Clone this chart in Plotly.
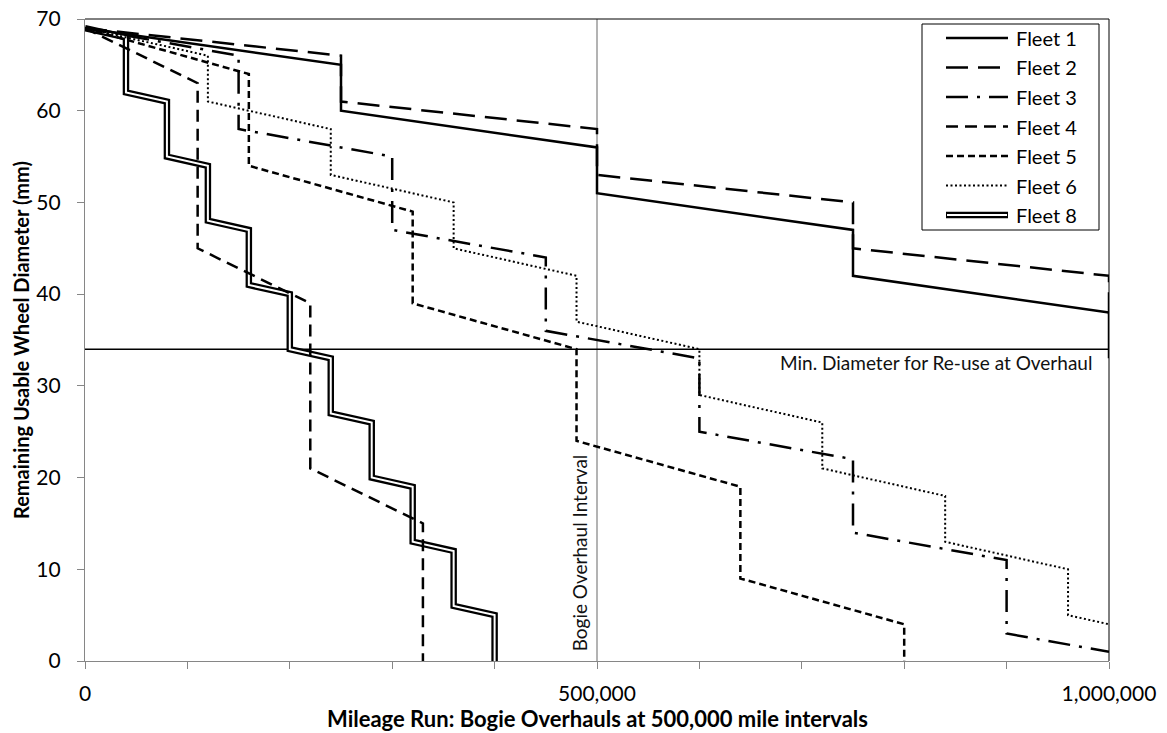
import plotly.graph_objects as go

# ---------------- data ----------------
fleet1_x = [0, 250000, 250000, 500000, 500000, 750000, 750000, 1000000, 1000000]
fleet1_y = [69, 65, 60, 56, 51, 47, 42, 38, 33]

fleet2_x = [0, 250000, 250000, 500000, 500000, 750000, 750000, 1000000, 1000000]
fleet2_y = [69, 66, 61, 58, 53, 50, 45, 42, 37]

fleet3_x = [0, 150000, 150000, 300000, 300000, 450000, 450000, 600000, 600000,
            750000, 750000, 900000, 900000, 1000000]
fleet3_y = [69, 66, 58, 55, 47, 44, 36, 33, 25, 22, 14, 11, 3, 1]

fleet4_x = [0, 110000, 110000, 220000, 220000, 330000, 330000]
fleet4_y = [69, 63, 45, 39, 21, 15, 0]

fleet5_x = [0, 160000, 160000, 320000, 320000, 480000, 480000, 640000, 640000, 800000, 800000]
fleet5_y = [69, 64, 54, 49, 39, 34, 24, 19, 9, 4, 0]

fleet6_x = [0, 120000, 120000, 240000, 240000, 360000, 360000, 480000, 480000, 600000, 600000,
            720000, 720000, 840000, 840000, 960000, 960000, 1000000]
fleet6_y = [69, 66, 61, 58, 53, 50, 45, 42, 37, 34, 29, 26, 21, 18, 13, 10, 5, 4]

fleet8_x = [0, 40000, 40000, 80000, 80000, 120000, 120000, 160000, 160000, 200000, 200000,
            240000, 240000, 280000, 280000, 320000, 320000, 360000, 360000, 400000, 400000]
fleet8_y = [69, 68, 62, 61, 55, 54, 48, 47, 41, 40, 34, 33, 27, 26, 20, 19, 13, 12, 6, 5, 0]

min_diameter = 34
overhaul_interval = 500000

x_tick_vals = [0, 100000, 200000, 300000, 400000, 500000, 600000, 700000, 800000, 900000, 1000000]
x_tick_text = ["0", "", "", "", "", "500,000", "", "", "", "", "1,000,000"]
y_tick_vals = [0, 10, 20, 30, 40, 50, 60, 70]

fleet_names = ["Fleet 1", "Fleet 2", "Fleet 3", "Fleet 4", "Fleet 5", "Fleet 6", "Fleet 8"]

# ---------------- styles ----------------
FONT = "Lato, 'Open Sans', Arial, sans-serif"
styles = {
    "Fleet 1": dict(width=2.5, dash="solid"),
    "Fleet 2": dict(width=2.5, dash="22px,10px"),
    "Fleet 3": dict(width=2.5, dash="22px,9px,3px,9px"),
    "Fleet 4": dict(width=2.5, dash="12px,7px"),
    "Fleet 5": dict(width=2.5, dash="7px,4px"),
    "Fleet 6": dict(width=2, dash="2px,2.5px"),
}
series = {
    "Fleet 1": (fleet1_x, fleet1_y),
    "Fleet 2": (fleet2_x, fleet2_y),
    "Fleet 3": (fleet3_x, fleet3_y),
    "Fleet 4": (fleet4_x, fleet4_y),
    "Fleet 5": (fleet5_x, fleet5_y),
    "Fleet 6": (fleet6_x, fleet6_y),
}

fig = go.Figure()

# reference lines
fig.add_trace(go.Scatter(x=[overhaul_interval, overhaul_interval], y=[0, 70], mode="lines",
                         line=dict(color="#808080", width=1.2), showlegend=False, hoverinfo="skip"))
fig.add_trace(go.Scatter(x=[0, 1000000], y=[min_diameter, min_diameter], mode="lines",
                         line=dict(color="black", width=1.5), showlegend=False, hoverinfo="skip"))

# Fleet 8 double line
fig.add_trace(go.Scatter(x=fleet8_x, y=fleet8_y, mode="lines",
                         line=dict(color="black", width=6.5), showlegend=False))
fig.add_trace(go.Scatter(x=fleet8_x, y=fleet8_y, mode="lines",
                         line=dict(color="white", width=2), showlegend=False, hoverinfo="skip"))

for name, (xs, ys) in series.items():
    st = styles[name]
    fig.add_trace(go.Scatter(x=xs, y=ys, mode="lines", name=name,
                             line=dict(color="black", width=st["width"], dash=st["dash"]),
                             showlegend=False))

# ---------------- layout ----------------
L, R, T, B = 85, 1109, 19, 661
W, H = 1167, 733
pw, ph = R - L, B - T

def px(xp):
    return (xp - L) / pw

def py(yp):
    return (B - yp) / ph

shapes = []
# top and right frame
shapes.append(dict(type="line", xref="paper", yref="paper", x0=0, x1=1, y0=1, y1=1,
                   line=dict(color="black", width=1)))
shapes.append(dict(type="line", xref="paper", yref="paper", x0=1, x1=1, y0=0, y1=1,
                   line=dict(color="black", width=1)))

# legend box
shapes.append(dict(type="rect", xref="paper", yref="paper", x0=px(922), x1=px(1099),
                   y0=py(230), y1=py(24), line=dict(color="black", width=1), fillcolor="white",
                   layer="above"))

annotations = []
entry_y = [38, 67.5, 97, 126.5, 156, 185.5, 215]
for i, name in enumerate(fleet_names):
    yy = py(entry_y[i])
    if name == "Fleet 8":
        shapes.append(dict(type="line", xref="paper", yref="paper", x0=px(946), x1=px(1008),
                           y0=yy, y1=yy, line=dict(color="black", width=6.5), layer="above"))
        shapes.append(dict(type="line", xref="paper", yref="paper", x0=px(947), x1=px(1007),
                           y0=yy, y1=yy, line=dict(color="white", width=2), layer="above"))
    else:
        st = styles[name]
        shapes.append(dict(type="line", xref="paper", yref="paper", x0=px(946), x1=px(1008),
                           y0=yy, y1=yy, line=dict(color="black", width=st["width"], dash=st["dash"]),
                           layer="above"))
    annotations.append(dict(text=name, xref="paper", yref="paper", x=px(1014), y=yy,
                            xanchor="left", yanchor="middle", showarrow=False,
                            font=dict(family=FONT, size=20, color="black")))

annotations.append(dict(text="Min. Diameter for Re-use at Overhaul", x=985500, y=32.6,
                        xref="x", yref="y", xanchor="right", yanchor="middle", showarrow=False,
                        font=dict(family=FONT, size=19, color="#111")))
annotations.append(dict(text="Bogie Overhaul Interval", x=483000, y=11.8, xref="x", yref="y",
                        xanchor="center", yanchor="middle", textangle=-90, showarrow=False,
                        font=dict(family=FONT, size=19, color="#111")))
annotations.append(dict(text="<b>Mileage Run: Bogie Overhauls at 500,000 mile intervals</b>",
                        xref="paper", yref="paper", x=0.5, y=py(718), xanchor="center",
                        yanchor="middle", showarrow=False,
                        font=dict(family=FONT, size=22, color="black")))
annotations.append(dict(text="<b>Remaining Usable Wheel Diameter (mm)</b>",
                        xref="paper", yref="paper", x=px(21), y=0.5, xanchor="center",
                        yanchor="middle", textangle=-90, showarrow=False,
                        font=dict(family=FONT, size=20, color="black")))

fig.update_layout(
    width=W, height=H,
    margin=dict(l=L, r=W - R, t=T, b=H - B, pad=0),
    paper_bgcolor="white", plot_bgcolor="white",
    showlegend=False,
    shapes=shapes,
    annotations=annotations,
    font=dict(family=FONT, size=20, color="black"),
)
fig.update_xaxes(range=[0, 1000000], tickvals=x_tick_vals, ticktext=x_tick_text,
                 ticks="outside", ticklen=7, tickcolor="#868686", tickwidth=1,
                 showline=True, linecolor="#868686", linewidth=1.2, showgrid=False,
                 zeroline=False, ticklabelstandoff=7,
                 tickfont=dict(family=FONT, size=21, color="black"), automargin=False)
fig.update_yaxes(range=[0, 70], tickvals=y_tick_vals,
                 ticks="outside", ticklen=7, tickcolor="#868686", tickwidth=1,
                 showline=True, linecolor="#868686", linewidth=1.2, showgrid=False,
                 zeroline=False, ticklabelstandoff=12,
                 tickfont=dict(family=FONT, size=21, color="black"), automargin=False)

fig.write_html("out.html")
